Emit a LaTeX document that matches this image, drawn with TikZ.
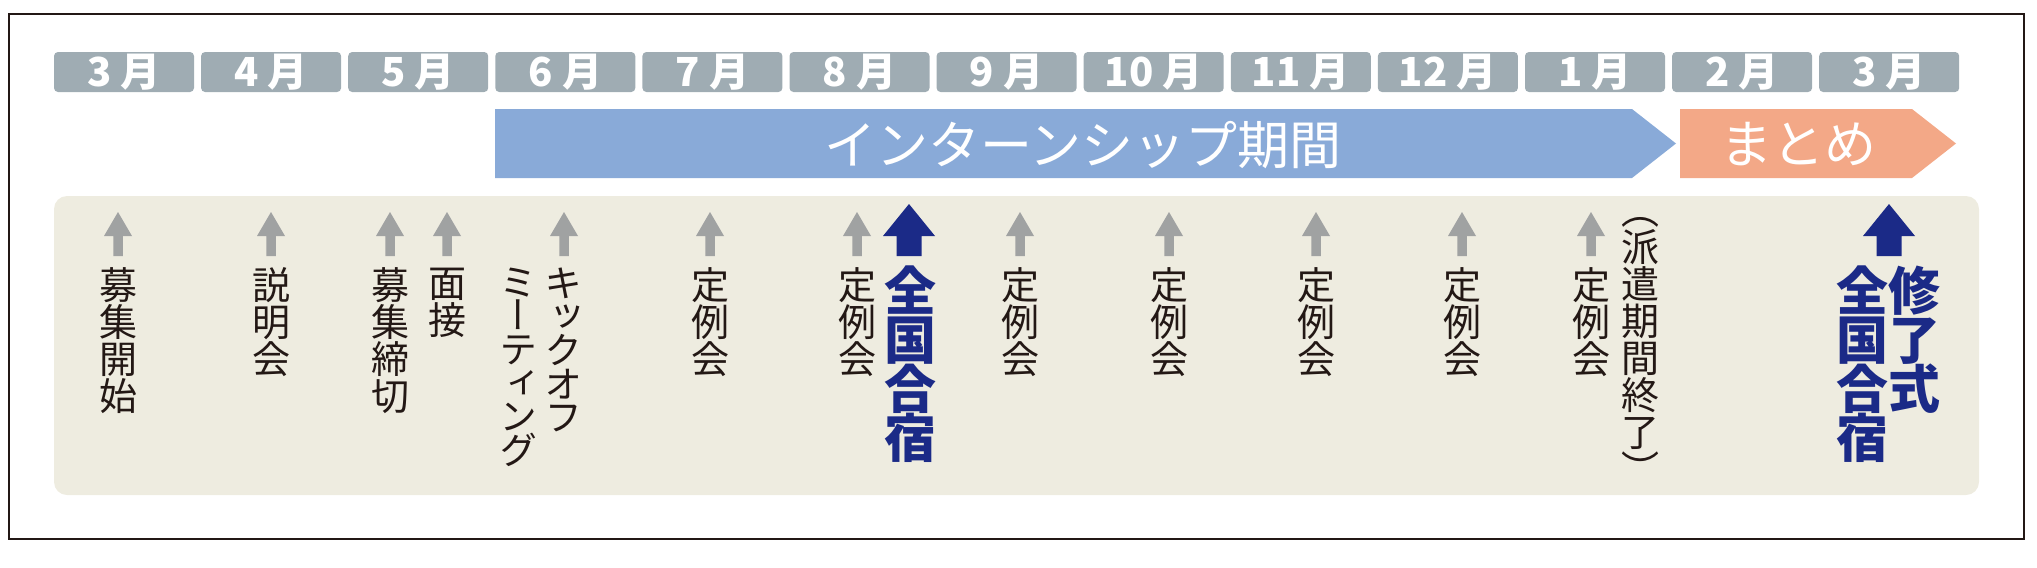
\documentclass[tikz,border=0pt]{standalone}
\usepackage{fontspec}
\setmainfont{Noto Sans CJK JP}
\newfontfamily\tatefont[RawFeature=+vert]{Noto Sans CJK JP}

\definecolor{monthgray}{RGB}{159,172,179}
\definecolor{bandblue}{RGB}{137,170,216}
\definecolor{matomeorange}{RGB}{243,168,135}
\definecolor{tanbg}{RGB}{238,236,224}
\definecolor{arrowgray}{RGB}{160,162,162}
\definecolor{navy}{RGB}{27,42,135}
\definecolor{inkblack}{RGB}{35,24,21}

\tikzset{
    month/.style={fill=monthgray, rounded corners=1pt, minimum width=35pt, minimum height=10pt, inner sep=0pt, text=white, font={\fontsize{10}{10}\selectfont\bfseries}},
    tate/.style={anchor=north, inner sep=0pt, align=center, text=inkblack, font={\tatefont\fontsize{9.5}{9.25}\selectfont\lineskiplimit=-10pt}},
    tatekana/.style={tate, font={\tatefont\fontsize{9.5}{8.4}\selectfont\lineskiplimit=-10pt}},
    tatebold/.style={tate, text=navy, font={\tatefont\bfseries\fontsize{13}{12.25}\selectfont\lineskiplimit=-10pt}},
    bandtext/.style={inner sep=0pt, text=white, font={\fontsize{13}{13}\selectfont}}
}

\begin{document}
\begin{tikzpicture}[x=0.25pt, y=-0.25pt]
        \useasboundingbox (0,0) rectangle (2037,568);

        \foreach \m [count=\i from 0] in {3,4,5,6,7,8,9,10,11,12,1,2,3}
            \node[month] (m\i) at (124+147.1*\i,72) {\m\ 月};

        \fill[bandblue] (495,109) -- (1632,109) -- (1676,143.5) -- (1632,178) -- (495,178) -- cycle;
        \fill[matomeorange] (1680,109) -- (1912,109) -- (1956,143.5) -- (1912,178) -- (1680,178) -- cycle;
        \node[bandtext] (intern) at (1083,145) {インターンシップ期間};
        \node[bandtext] (matome) at (1798,144) {まとめ};

        \fill[tanbg, rounded corners=3.25pt] (54,196) rectangle (1979,495);

        \foreach \x in {118,271,390,447,564,710,857,1020,1169,1316,1462,1591}
            \fill[arrowgray] (\x-4.75,256) -- (\x-4.75,236) -- (\x-14,236) -- (\x,212) -- (\x+14,236) -- (\x+4.75,236) -- (\x+4.75,256) -- cycle;
        \foreach \x in {909,1889}
            \fill[navy] (\x-12.5,256) -- (\x-12.5,236) -- (\x-26,236) -- (\x,204) -- (\x+26,236) -- (\x+12.5,236) -- (\x+12.5,256) -- cycle;

        \node[tate] (boshu) at (118,267) {募\\集\\開\\始};
        \node[tate] (setsumei) at (271,267) {説\\明\\会};
        \node[tate] (shimekiri) at (390,267) {募\\集\\締\\切};
        \node[tate] (mensetsu) at (447,267) {面\\接};
        \node[tatekana] (kickoff) at (563,267) {キ\\ッ\\ク\\オ\\フ};
        \node[tatekana] (meeting) at (518,267) {ミ\\ー\\テ\\ィ\\ン\\グ};
        \foreach \x/\n in {710/rei7, 857/rei8, 1020/rei9, 1169/rei10, 1316/rei11, 1462/rei12, 1591/rei1}
            \node[tate] (\n) at (\x,267) {定\\例\\会};
        \node[tate] (haken) at (1640,217) {（\\派\\遣\\期\\間\\終\\了\\）};

        \node[tatebold] (gasshuku) at (910,265) {全\\国\\合\\宿};
        \node[tatebold] (gasshuku2) at (1862,265) {全\\国\\合\\宿};
        \node[tatebold] (shuryo) at (1914,265) {修\\了\\式};

        \draw[inkblack, line width=0.5pt] (9,14) rectangle (2024,539);
    \end{tikzpicture}
\end{document}
